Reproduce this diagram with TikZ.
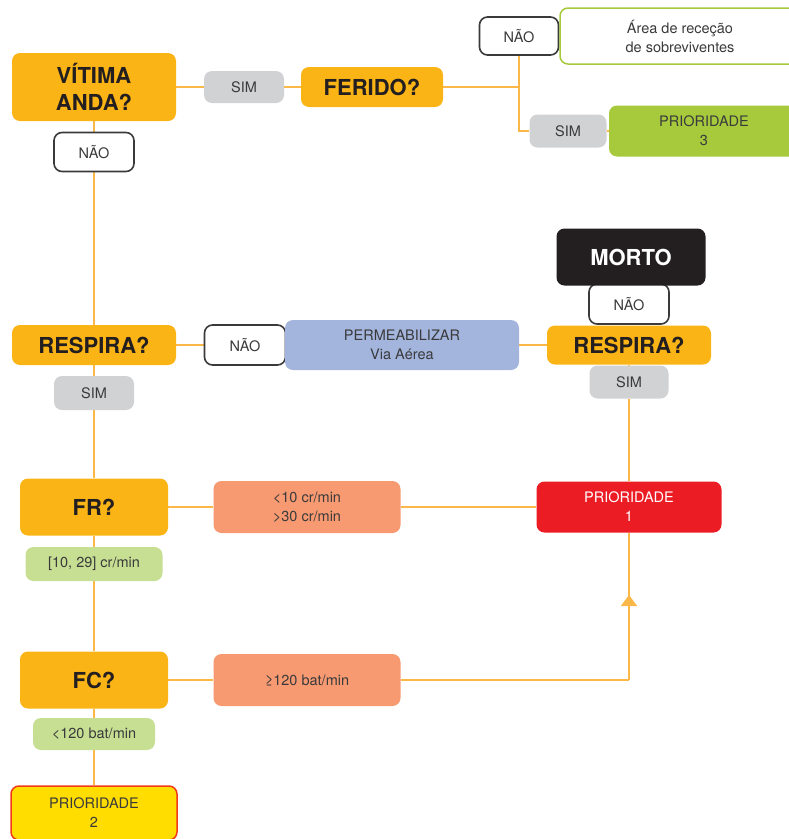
\documentclass[tikz,border=0pt]{standalone}
\usepackage{fontspec}
\setmainfont{TeX Gyre Heros}
\usetikzlibrary{arrows.meta,decorations.markings}
\pgfdeclarelayer{bg}\pgfsetlayers{bg,main}
\definecolor{qorange}{HTML}{FBB416}
\definecolor{lineor}{HTML}{FBB848}
\definecolor{qgray}{HTML}{D1D2D4}
\definecolor{qblue}{HTML}{A4B5DD}
\definecolor{qsalmon}{HTML}{F79A71}
\definecolor{qred}{HTML}{EC1C24}
\definecolor{qlgreen}{HTML}{C7DF92}
\definecolor{qgreen}{HTML}{A6CA3C}
\definecolor{qyellow}{HTML}{FFDD00}
\definecolor{qblack}{HTML}{231F20}
\definecolor{qtext}{HTML}{3A3A3C}
\begin{document}
\begin{tikzpicture}[x=1pt,y=-1pt,
  box/.style={rounded corners=8pt, align=center, inner sep=0pt, text=qtext,
    font=\fontsize{14.5}{19}\selectfont},
  big/.style={box, fill=qorange, text=qblack, font=\fontsize{22}{27}\selectfont\bfseries},
  simbox/.style={box, fill=qgray},
  naobox/.style={box, fill=white, draw=qtext, line width=1.6pt},
  conn/.style={draw=lineor, line width=1.6pt},
  upmark/.style={postaction={decorate, decoration={markings,
    mark=at position 85pt with {\arrow[lineor]{Triangle[width=16pt,length=11pt]}}}}}
]
\useasboundingbox (0,0) rectangle (789,839);

\node[big, minimum width=164pt, minimum height=68pt] (va) at (94,87) {VÍTIMA\\ANDA?};
\node[simbox, minimum width=80pt, minimum height=32pt] (sim1) at (244,87) {SIM};
\node[big, minimum width=142pt, minimum height=40pt] (fer) at (372,87) {FERIDO?};
\node[naobox, minimum width=79pt, minimum height=38pt] (nao1) at (519,36) {NÃO};
\node[box, fill=white, draw=qgreen, line width=1.5pt, minimum width=240pt, minimum height=56pt] (area) at (680,36) {Área de receção\\de sobreviventes};
\node[simbox, minimum width=77pt, minimum height=33pt] (sim2) at (568,131) {SIM};
\node[box, fill=qgreen, minimum width=190pt, minimum height=51pt] (p3) at (704,131) {PRIORIDADE\\3};
\node[naobox, minimum width=80pt, minimum height=39pt] (nao2) at (94,152) {NÃO};

\node[big, minimum width=164pt, minimum height=40pt] (resp1) at (94,345) {RESPIRA?};
\node[naobox, minimum width=81pt, minimum height=40pt] (nao3) at (245,345) {NÃO};
\node[box, fill=qblue, minimum width=234pt, minimum height=50pt] (perm) at (402,345) {PERMEABILIZAR\\Via Aérea};
\node[big, minimum width=164pt, minimum height=39pt] (resp2) at (629,345) {RESPIRA?};
\node[naobox, minimum width=80pt, minimum height=40pt] (nao4) at (629,304) {NÃO};
\node[big, fill=qblack, text=white, minimum width=149pt, minimum height=57pt] (morto) at (631,257) {MORTO};
\node[simbox, minimum width=79pt, minimum height=33pt] (sim3) at (629,382) {SIM};
\node[simbox, minimum width=80pt, minimum height=34pt] (sim4) at (94,393) {SIM};

\node[big, minimum width=148pt, minimum height=57pt] (fr) at (94,507) {FR?};
\node[box, fill=qsalmon, minimum width=187pt, minimum height=52pt] (sal1) at (307,507) {<10 cr/min\\>30 cr/min};
\node[box, fill=qred, text=white, minimum width=185pt, minimum height=51pt] (p1) at (629,507) {PRIORIDADE\\1};
\node[box, fill=qlgreen, minimum width=137pt, minimum height=34pt] (g1) at (94,564) {[10, 29] cr/min};
\node[big, minimum width=148pt, minimum height=57pt] (fc) at (94,680) {FC?};
\node[box, fill=qsalmon, minimum width=187pt, minimum height=52pt] (sal2) at (307,680) {≥120 bat/min};
\node[box, fill=qlgreen, minimum width=122pt, minimum height=32pt] (g2) at (94,734) {<120 bat/min};
\node[box, fill=qyellow, draw=qred!70!orange, line width=1.5pt, minimum width=166pt, minimum height=54pt] (p2) at (94,813) {PRIORIDADE\\2};

\coordinate (j1) at (nao1.south |- fer.east);
\coordinate (c1) at (p1.south |- sal2.east);

\begin{pgfonlayer}{bg}
\path[conn] (va.east) -- (sim1.west);
\path[conn] (sim1.east) -- (fer.west);
\path[conn] (fer.east) -- (j1);
\path[conn] (nao1.south) |- (sim2.west);
\path[conn] (sim2.east) -- (p3.west);
\path[conn] (va.south) -- (nao2.north);
\path[conn] (nao2.south) -- (resp1.north);
\path[conn] (resp1.east) -- (nao3.west);
\path[conn] (nao3.east) -- (perm.west);
\path[conn] (perm.east) -- (resp2.west);
\path[conn] (resp2.south) -- (sim3.north);
\path[conn] (sim3.south) -- (p1.north);
\path[conn] (resp1.south) -- (sim4.north);
\path[conn] (sim4.south) -- (fr.north);
\path[conn] (fr.east) -- (sal1.west);
\path[conn] (sal1.east) -- (p1.west);
\path[conn] (fr.south) -- (g1.north);
\path[conn] (g1.south) -- (fc.north);
\path[conn] (fc.east) -- (sal2.west);
\path[conn] (sal2.east) -- (c1);
\path[conn, upmark] (c1) -- (p1.south);
\path[conn] (fc.south) -- (g2.north);
\path[conn] (g2.south) -- (p2.north);
\end{pgfonlayer}
\end{tikzpicture}
\end{document}
